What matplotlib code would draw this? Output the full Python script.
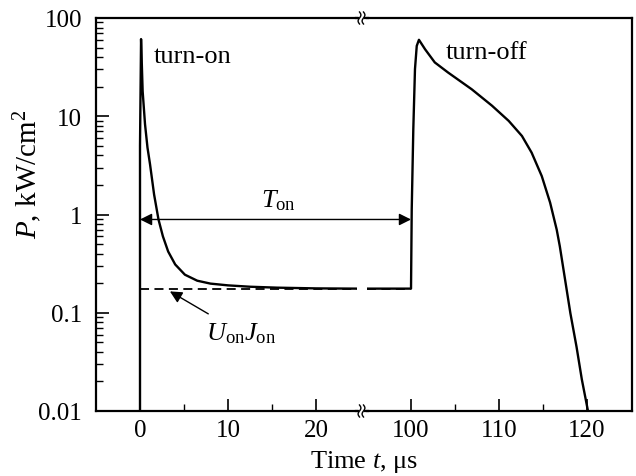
import numpy as np
import matplotlib.pyplot as plt
from matplotlib.lines import Line2D
from matplotlib.ticker import LogLocator, NullFormatter

plt.rcParams['font.family'] = 'Liberation Serif'
plt.rcParams['mathtext.fontset'] = 'custom'
plt.rcParams['mathtext.rm'] = 'Liberation Serif'
plt.rcParams['mathtext.it'] = 'Liberation Serif:italic'

# turn-on transient, us / kW/cm^2
t_on = [0.0, 0.0, 0.12, 0.3, 0.57, 0.85, 1.14, 1.6, 2.1, 2.6, 3.2, 4.0, 5.1,
        6.5, 8.0, 10.0, 12.5, 15.6, 20.0, 24.6]
p_on = [0.01, 5.0, 61, 18, 8.3, 4.8, 3.24, 1.6, 0.89, 0.6, 0.42, 0.31, 0.244,
        0.212, 0.198, 0.19, 0.184, 0.18, 0.177, 0.176]

# turn-off transient
t_off = [95.0, 100.0, 100.08, 100.26, 100.45, 100.65, 100.9, 101.6, 102.7,
         104.2, 106.9, 109.2, 111.1, 112.6, 113.7, 114.85, 115.8, 116.55,
         116.9, 117.5, 118.1, 118.8, 119.4, 120.1]
p_off = [0.176, 0.176, 1.12, 7.4, 30.2, 52, 60, 48, 35.3,
         27.9, 18.8, 12.8, 8.96, 6.3, 4.26, 2.46, 1.32, 0.70,
         0.475, 0.217, 0.099, 0.045, 0.021, 0.01]

p_uj = 0.176          # U_on * J_on level
t_start, t_end = 0, 100
p_arrow = 0.89

W, H = 636, 477
fig = plt.figure(figsize=(W / 100, H / 100), dpi=100)
ax1 = fig.add_axes([96 / W, 1 - 412 / H, 260.5 / W, 393 / H])
ax2 = fig.add_axes([367 / W, 1 - 412 / H, 265 / W, 393 / H], sharey=ax1)

lw = 1.7
ax1.plot(t_on, p_on, color='black', lw=lw)
ax2.plot(t_off, p_off, color='black', lw=lw)
ax1.plot([t_start, 24.6], [p_uj, p_uj], color='black', lw=1.3, ls=(0, (5, 3)))
ax2.plot([95.0, t_end], [p_uj, p_uj], color='black', lw=1.3, ls=(0, (5, 3)))

ax1.set_yscale('log')
ax1.set_ylim(0.01, 100)
ax1.set_xlim(-5, 24.6)
ax2.set_xlim(95.0, 125.1)

ax1.set_yticks([0.01, 0.1, 1, 10, 100], labels=['0.01', '0.1', '1', '10', '100'])
ax1.yaxis.set_minor_locator(LogLocator(base=10, subs=np.arange(2, 10)))
ax1.yaxis.set_minor_formatter(NullFormatter())
ax1.set_xticks([0, 10, 20])
ax1.set_xticks([5, 15], minor=True)
ax2.set_xticks([100, 110, 120])
ax2.set_xticks([105, 115], minor=True)

for ax in (ax1, ax2):
    ax.tick_params(which='major', direction='in', length=9, width=1.2,
                   labelsize=18, top=False)
    ax.tick_params(which='minor', direction='in', length=5, width=1.0, top=False)
    ax.tick_params(axis='x', pad=6)
    ax.tick_params(axis='y', pad=10)
    for s in ax.spines.values():
        s.set_linewidth(1.6)
ax1.spines['right'].set_visible(False)
ax2.spines['left'].set_visible(False)
ax2.tick_params(axis='y', which='both', left=False, right=False,
                labelleft=False)
ax2.patch.set_visible(False)

# axis break marks
for yb in (19, 412):
    fig.add_artist(Line2D([356 / W, 358 / W], [1 - yb / H] * 2,
                          transform=fig.transFigure, color='black', lw=1.6))
    fig.add_artist(Line2D([365 / W, 368 / W], [1 - yb / H] * 2,
                          transform=fig.transFigure, color='black', lw=1.6))
    u = np.linspace(-1, 1, 30)
    for xb in (359.5, 363.5):
        xs = xb + 1.4 * np.sin(np.pi * u)
        ys = yb - 6 * u
        fig.add_artist(Line2D(xs / W, 1 - ys / H, transform=fig.transFigure,
                              color='black', lw=1.0))

# T_on arrow
ann = ax2.annotate('', xy=(t_end, p_arrow), xycoords=ax2.transData,
                   xytext=(t_start, p_arrow), textcoords=ax1.transData,
                   arrowprops=dict(arrowstyle='<|-|>', color='black', lw=1.0,
                                   mutation_scale=18, shrinkA=0, shrinkB=0),
                   annotation_clip=False)
ann.arrow_patch.set_clip_on(False)
ax1.text(15.7, 1.42, r'$T_{\mathrm{on}}$', fontsize=19, ha='center', va='center')

# U_on J_on
ax1.annotate(r'$U_{\mathrm{on}}J_{\mathrm{on}}$', xy=(3.4, 0.165),
             xytext=(11.5, 0.062), fontsize=19, ha='center', va='center',
             arrowprops=dict(arrowstyle='-|>', color='black', lw=1.0,
                             mutation_scale=18, shrinkA=6, shrinkB=0))

ax1.text(1.6, 41, 'turn-on', fontsize=19, ha='left', va='center')
ax2.text(103.9, 45, 'turn-off', fontsize=19, ha='left', va='center')

fig.text(364.5 / W, 1 - 462 / H, r'Time $t$, μs', fontsize=19,
         ha='center', va='center')
fig.text(28 / W, 1 - 174.5 / H, r'$P$, kW/cm$^2$', fontsize=21,
         ha='center', va='center', rotation=90)

fig.savefig('out.png', dpi=100)
